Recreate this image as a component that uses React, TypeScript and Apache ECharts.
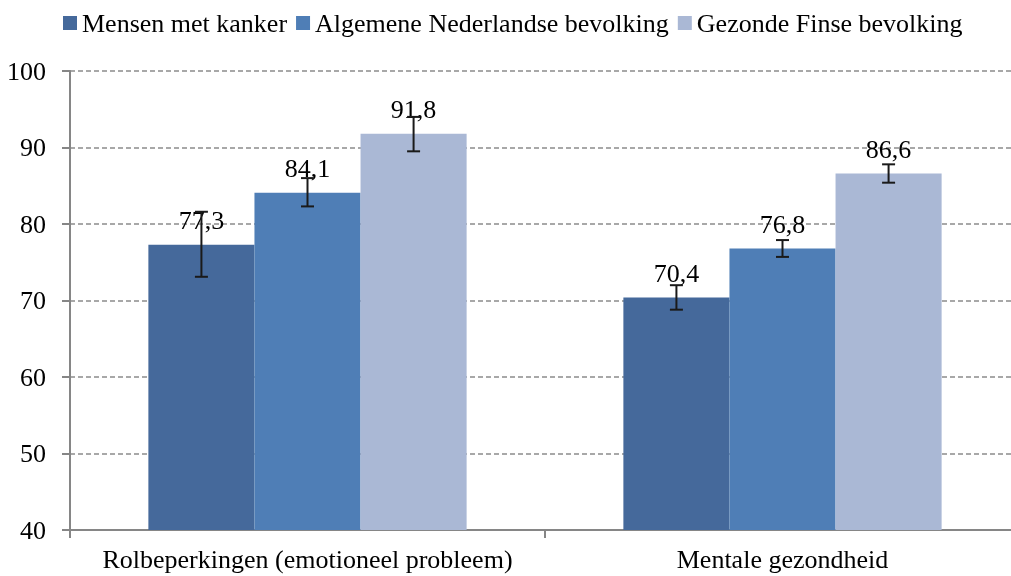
import React, { useEffect, useRef } from "react";
import * as echarts from "echarts";

const categories = ["Rolbeperkingen (emotioneel probleem)", "Mentale gezondheid"];
const seriesNames = ["Mensen met kanker", "Algemene Nederlandse bevolking", "Gezonde Finse bevolking"];
const mensen = [77.3, 70.4];
const algemeen = [84.1, 76.8];
const finse = [91.8, 86.6];
const mensenLow = [73.1, 68.8];
const mensenHigh = [81.6, 72.0];
const algemeenLow = [82.3, 75.7];
const algemeenHigh = [86.0, 77.9];
const finseLow = [89.5, 85.4];
const finseHigh = [94.0, 87.8];
const yTicks = [40, 50, 60, 70, 80, 90, 100];

const colors = ["#45699B", "#4F7EB6", "#AAB8D5"];
const FONT = "Liberation Serif";
const GAP = 0.33;

export default function App() {
  const ref = useRef<HTMLDivElement>(null);
  useEffect(() => {
    const chart = echarts.init(ref.current!, undefined, { renderer: "svg" });
    const values = [mensen, algemeen, finse];
    const lows = [mensenLow, algemeenLow, finseLow];
    const highs = [mensenHigh, algemeenHigh, finseHigh];

    const barSeries = values.map((vals, i) => ({
      name: seriesNames[i],
      type: "bar",
      data: vals,
      barGap: "0%",
      barCategoryGap: "33%",
      itemStyle: { color: colors[i] },
      label: {
        show: true,
        position: "top",
        distance: 11,
        color: "#000",
        fontFamily: FONT,
        fontSize: 26,
        formatter: (p: any) => String(p.value).replace(".", ","),
      },
      z: 2,
    }));

    const errData: number[][] = [];
    for (let s = 0; s < 3; s++) {
      for (let c = 0; c < categories.length; c++) {
        errData.push([c, lows[s][c], highs[s][c], s]);
      }
    }

    const errSeries = {
      type: "custom",
      name: "err",
      data: errData,
      z: 5,
      silent: true,
      encode: { x: 0, y: [1, 2] },
      renderItem: (params: any, api: any) => {
        const c = api.value(0);
        const s = api.value(3);
        const lo = api.coord([c, api.value(1)]);
        const hi = api.coord([c, api.value(2)]);
        const band = api.size([1, 0])[0];
        const barW = (band * (1 - GAP)) / 3;
        const x = lo[0] + (s - 1) * barW;
        const cap = 6.5;
        const style = { stroke: "#1a1a1a", lineWidth: 2 };
        return {
          type: "group",
          children: [
            { type: "line", shape: { x1: x, y1: lo[1], x2: x, y2: hi[1] }, style },
            { type: "line", shape: { x1: x - cap, y1: lo[1], x2: x + cap, y2: lo[1] }, style },
            { type: "line", shape: { x1: x - cap, y1: hi[1], x2: x + cap, y2: hi[1] }, style },
          ],
        };
      },
    };

    chart.setOption({
      animation: false,
      textStyle: { fontFamily: FONT },
      legend: {
        data: seriesNames,
        left: 58,
        top: 5,
        itemWidth: 14,
        itemHeight: 14,
        itemGap: 9,
        icon: "rect",
        textStyle: { fontFamily: FONT, fontSize: 26, color: "#000" },
      },
      grid: { left: 70, right: 0, top: 71, bottom: 46, containLabel: false },
      xAxis: {
        type: "category",
        data: categories,
        axisLine: { lineStyle: { color: "#868686", width: 2 } },
        axisTick: { show: true, length: 8, lineStyle: { color: "#868686", width: 2 } },
        axisLabel: { fontFamily: FONT, fontSize: 26, color: "#000", margin: 16, interval: 0 },
      },
      yAxis: {
        type: "value",
        min: yTicks[0],
        max: yTicks[yTicks.length - 1],
        interval: 10,
        axisLine: { show: true, lineStyle: { color: "#868686", width: 2 } },
        axisTick: { show: true, length: 8, lineStyle: { color: "#868686", width: 2 } },
        axisLabel: { fontFamily: FONT, fontSize: 26, color: "#000", margin: 24 },
        splitLine: { show: true, lineStyle: { color: "#8c8c8c", width: 1.5, type: [5, 3] } },
      },
      series: [...barSeries, errSeries],
    });
    return () => chart.dispose();
  }, []);
  return (
    <div style={{ position: "fixed", left: 0, top: 0, width: 1011, height: 576, overflow: "hidden" }}>
      <div ref={ref} style={{ width: 1020, height: 576 }} />
    </div>
  );
}
